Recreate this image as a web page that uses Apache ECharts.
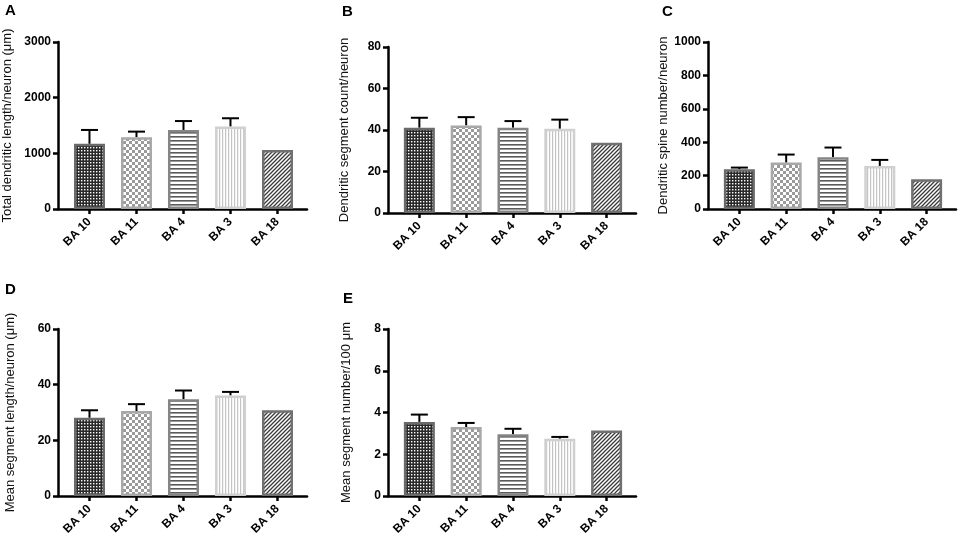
<!DOCTYPE html>
<html>
<head>
<meta charset="utf-8">
<script src="https://cdn.jsdelivr.net/npm/echarts@6/dist/echarts.min.js"></script>
<style>
html,body{margin:0;padding:0;background:#fff;}
#main{width:962px;height:539px;}
</style>
</head>
<body>
<div id="main"></div>
<script>
// ---- data ----
const categories = ['BA 10', 'BA 11', 'BA 4', 'BA 3', 'BA 18'];

const totalLengthMean = [1170, 1290, 1420, 1480, 1060];
const totalLengthErr  = [250, 100, 160, 150, 0];

const segmentCountMean = [41.1, 42.2, 41.1, 40.6, 33.9];
const segmentCountErr  = [4.8, 4.0, 3.2, 4.4, 0];

const spineNumberMean = [238, 278, 310, 258, 178];
const spineNumberErr  = [10, 48, 58, 36, 0];

const meanSegLengthMean = [28.1, 30.5, 34.8, 36.1, 30.8];
const meanSegLengthErr  = [2.7, 2.5, 3.1, 1.3, 0];

const segPer100Mean = [3.55, 3.3, 2.96, 2.74, 3.14];
const segPer100Err  = [0.35, 0.2, 0.26, 0.09, 0];

const panelLetters = ['A', 'B', 'C', 'D', 'E'];
const yNames = [
  'Total dendritic length/neuron (\u03bcm)',
  'Dendritic segment count/neuron',
  'Dendritic spine number/neuron',
  'Mean segment length/neuron (\u03bcm)',
  'Mean segment number/100 \u03bcm'
];
const yMax = [3000, 80, 1000, 60, 8];
const yInterval = [1000, 20, 200, 20, 2];

// ---- presentation ----
const FONT = '"Liberation Sans", Arial, Helvetica, sans-serif';

function pattern(w, h, draw) {
  const c = document.createElement('canvas');
  c.width = w; c.height = h;
  const g = c.getContext('2d');
  draw(g, w, h);
  return { image: c, repeat: 'repeat' };
}
const patDots = pattern(3, 3, (g) => {
  g.fillStyle = '#2a2a2a'; g.fillRect(0, 0, 3, 3);
  g.fillStyle = '#ffffff'; g.fillRect(0, 0, 1.4, 1.4);
});
const patChecker = pattern(6, 6, (g) => {
  g.fillStyle = '#ffffff'; g.fillRect(0, 0, 6, 6);
  g.fillStyle = '#9a9a9a'; g.fillRect(0, 0, 3, 3); g.fillRect(3, 3, 3, 3);
});
const patHoriz = pattern(4, 4, (g) => {
  g.fillStyle = '#ffffff'; g.fillRect(0, 0, 4, 4);
  g.fillStyle = '#5a5a5a'; g.fillRect(0, 0, 4, 1.6);
});
const patVert = pattern(3, 3, (g) => {
  g.fillStyle = '#ffffff'; g.fillRect(0, 0, 3, 3);
  g.fillStyle = '#c4c4c4'; g.fillRect(0, 0, 1.2, 3);
});
const patDiag = pattern(4, 4, (g) => {
  g.fillStyle = '#ffffff'; g.fillRect(0, 0, 4, 4);
  g.strokeStyle = '#3a3a3a'; g.lineWidth = 1.3;
  g.beginPath();
  g.moveTo(-1, 5); g.lineTo(5, -1);
  g.moveTo(-1, 1); g.lineTo(1, -1);
  g.moveTo(3, 5); g.lineTo(5, 3);
  g.stroke();
});
const barStyles = [
  { color: patDots,    borderColor: '#6a6a6a', borderWidth: 2.5 },
  { color: patChecker, borderColor: '#a8a8a8', borderWidth: 2.5 },
  { color: patHoriz,   borderColor: '#858585', borderWidth: 2.5 },
  { color: patVert,    borderColor: '#d0d0d0', borderWidth: 2.5 },
  { color: patDiag,    borderColor: '#707070', borderWidth: 2.5 }
];

const grids = [
  { left: 58,  top: 42,  width: 249, height: 167 },
  { left: 388, top: 47,  width: 248, height: 166 },
  { left: 708, top: 42,  width: 248, height: 167 },
  { left: 58,  top: 329, width: 249, height: 167 },
  { left: 388, top: 329, width: 248, height: 167 }
];
const nameGaps = [44, 37, 37, 41, 35];
const letterPos = [[5, 3], [342, 4], [662, 4], [5, 282], [343, 291]];

const means = [totalLengthMean, segmentCountMean, spineNumberMean, meanSegLengthMean, segPer100Mean];
const errs  = [totalLengthErr, segmentCountErr, spineNumberErr, meanSegLengthErr, segPer100Err];

const idx = categories.map((_, i) => i);

const option = {
  backgroundColor: '#ffffff',
  animation: false,
  title: panelLetters.map((t, i) => ({
    text: t, left: letterPos[i][0], top: letterPos[i][1], padding: 0,
    textStyle: { fontFamily: FONT, fontSize: 15, fontWeight: 'bold', color: '#000' }
  })),
  grid: grids.map(g => Object.assign({ containLabel: false }, g)),
  xAxis: grids.map((g, i) => ({
    type: 'value', gridIndex: i, min: -0.67, max: 4.628,
    axisLine: { show: true, onZero: false, lineStyle: { color: '#000', width: 2.5 } },
    axisTick: { show: true, customValues: idx, length: 5, lineStyle: { color: '#000', width: 2.5 } },
    axisLabel: {
      show: true, customValues: idx, rotate: 45, margin: 11,
      formatter: (v) => categories[Math.round(v)] || '',
      fontFamily: FONT, fontSize: 12, fontWeight: 'bold', color: '#000'
    },
    splitLine: { show: false }
  })),
  yAxis: grids.map((g, i) => ({
    type: 'value', gridIndex: i, min: 0, max: yMax[i], interval: yInterval[i],
    name: yNames[i], nameLocation: 'middle', nameGap: nameGaps[i], nameRotate: 90,
    nameTextStyle: { fontFamily: FONT, fontSize: 13, color: '#111' },
    axisLine: { show: true, onZero: false, lineStyle: { color: '#000', width: 2.5 } },
    axisTick: { show: true, length: 5, lineStyle: { color: '#000', width: 2.5 } },
    axisLabel: {
      margin: 7, fontFamily: FONT, fontSize: 12, fontWeight: 'bold', color: '#000',
      formatter: (v) => String(v)
    },
    splitLine: { show: false }
  })),
  series: []
};

means.forEach((m, p) => {
  option.series.push({
    type: 'custom', xAxisIndex: p, yAxisIndex: p, z: 1,
    data: m.map((v, i) => [i, v, errs[p][i]]).filter(d => d[2] > 0),
    renderItem: (params, api) => {
      const x = api.value(0), v = api.value(1), e = api.value(2);
      const a = api.coord([x, v]);
      const b = api.coord([x, v + e]);
      const st = { stroke: '#000', lineWidth: 2 };
      return {
        type: 'group',
        children: [
          { type: 'line', shape: { x1: a[0], y1: a[1], x2: b[0], y2: b[1] }, style: st },
          { type: 'line', shape: { x1: b[0] - 8.5, y1: b[1], x2: b[0] + 8.5, y2: b[1] }, style: st }
        ]
      };
    }
  });
  option.series.push({
    type: 'bar', xAxisIndex: p, yAxisIndex: p, z: 2, barWidth: 31,
    data: m.map((v, i) => ({ value: [i, v], itemStyle: barStyles[i] }))
  });
});

const chart = echarts.init(document.getElementById('main'), null, { renderer: 'canvas' });
chart.setOption(option);
</script>
</body>
</html>
